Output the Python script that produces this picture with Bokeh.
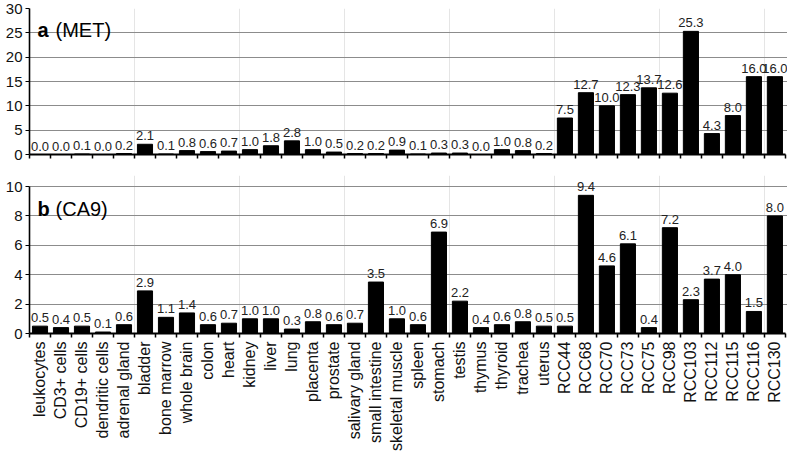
import math
from bokeh.plotting import figure
from bokeh.models import (Range1d, FixedTicker, LinearAxis, ColumnDataSource, LabelSet,
                          Label, Grid, CustomJSTickFormatter)
from bokeh.layouts import column
from bokeh.core.properties import value
from bokeh.embed import file_html
from bokeh.resources import INLINE

categories = ["leukocytes", "CD3+ cells", "CD19+ cells", "dendritic cells", "adrenal gland",
              "bladder", "bone marrow", "whole brain", "colon", "heart", "kidney", "liver",
              "lung", "placenta", "prostate", "salivary gland", "small intestine",
              "skeletal muscle", "spleen", "stomach", "testis", "thymus", "thyroid",
              "trachea", "uterus", "RCC44", "RCC68", "RCC70", "RCC73", "RCC75", "RCC98",
              "RCC103", "RCC112", "RCC115", "RCC116", "RCC130"]

met_values = [0.0, 0.0, 0.1, 0.0, 0.2, 2.1, 0.1, 0.8, 0.6, 0.7, 1.0, 1.8, 2.8, 1.0, 0.5,
              0.2, 0.2, 0.9, 0.1, 0.3, 0.3, 0.0, 1.0, 0.8, 0.2,
              7.5, 12.7, 10.0, 12.3, 13.7, 12.6, 25.3, 4.3, 8.0, 16.0, 16.0]

ca9_values = [0.5, 0.4, 0.5, 0.1, 0.6, 2.9, 1.1, 1.4, 0.6, 0.7, 1.0, 1.0, 0.3, 0.8, 0.6,
              0.7, 3.5, 1.0, 0.6, 6.9, 2.2, 0.4, 0.6, 0.8, 0.5,
              0.5, 9.4, 4.6, 6.1, 0.4, 7.2, 2.3, 3.7, 4.0, 1.5, 8.0]

met_ticks = [0, 5, 10, 15, 20, 25, 30]
ca9_ticks = [0, 2, 4, 6, 8, 10]

FONT = "Liberation Sans"
W = 787
N = len(categories)
centers = [i + 0.5 for i in range(N)]
bounds = list(range(N + 1))


def make_panel(values, yticks, yend, height, top, bottom, show_labels, letter, gene, title_y):
    p = figure(width=W, height=height, x_range=Range1d(0, N + 0.1),
               y_range=Range1d(0, yend), output_backend="svg",
               toolbar_location=None, x_axis_location=None, y_axis_location=None,
               min_border_left=29, min_border_right=0, min_border_top=top,
               min_border_bottom=bottom)
    p.outline_line_color = None
    p.background_fill_color = "white"

    yaxis = LinearAxis(ticker=FixedTicker(ticks=yticks), bounds=(0, yticks[-1]))
    yaxis.major_label_text_font = FONT
    yaxis.major_label_text_font_size = "15px"
    yaxis.major_label_text_color = "#111111"
    yaxis.major_tick_out = 4
    yaxis.major_tick_in = 0
    yaxis.minor_tick_out = 0
    yaxis.minor_tick_in = 0
    yaxis.axis_line_width = 1.6
    yaxis.major_label_standoff = 3
    p.add_layout(yaxis, "left")

    p.add_layout(Grid(dimension=1, ticker=yaxis.ticker, grid_line_color="#8c8c8c",
                      grid_line_width=1))

    if show_labels:
        xaxis = LinearAxis(ticker=FixedTicker(ticks=centers, minor_ticks=bounds),
                           bounds=(0, N))
        xaxis.formatter = CustomJSTickFormatter(args=dict(names=categories),
                                                code="return names[Math.floor(tick)] || '';")
        xaxis.major_label_orientation = math.pi / 2
        xaxis.major_label_text_font = FONT
        xaxis.major_label_text_font_size = "16px"
        xaxis.major_label_text_color = "#111111"
        xaxis.major_label_standoff = 4
    else:
        xaxis = LinearAxis(ticker=FixedTicker(ticks=[], minor_ticks=bounds), bounds=(0, N))
        xaxis.major_label_text_font_size = "0px"
    xaxis.major_tick_out = 0
    xaxis.major_tick_in = 0
    xaxis.minor_tick_out = 4
    xaxis.minor_tick_in = 0
    xaxis.minor_tick_line_width = 1.5
    xaxis.axis_line_width = 2
    p.add_layout(xaxis, "below")

    src = ColumnDataSource(dict(x=centers, top=values,
                                label=["%.1f" % v for v in values]))
    p.vbar(x="x", top="top", bottom=0, width=0.72, source=src,
           fill_color="black", line_color="black")
    p.add_layout(LabelSet(x="x", y="top", text="label", source=src,
                          text_align="center", text_baseline="bottom", y_offset=4,
                          text_font=value(FONT), text_font_size=value("13px"),
                          text_color="#222222"))

    p.add_layout(Label(x=0.38, y=title_y, text=letter, text_font=FONT,
                       text_font_style="bold", text_font_size="20px",
                       text_baseline="alphabetic", text_color="black"))
    p.add_layout(Label(x=1.24, y=title_y, text=gene, text_font=FONT,
                       text_font_size="20px", text_baseline="alphabetic",
                       text_color="black"))
    return p


top_panel = make_panel(met_values, met_ticks, 30, 169, 8, 15, False, "a", "(MET)", 25.5)
bottom_panel = make_panel(ca9_values, ca9_ticks, 10.75, 284, 6, 118, True, "b", "(CA9)", 8.5)

layout = column(top_panel, bottom_panel, spacing=0)
open("out.html", "w").write(file_html(layout, INLINE))
